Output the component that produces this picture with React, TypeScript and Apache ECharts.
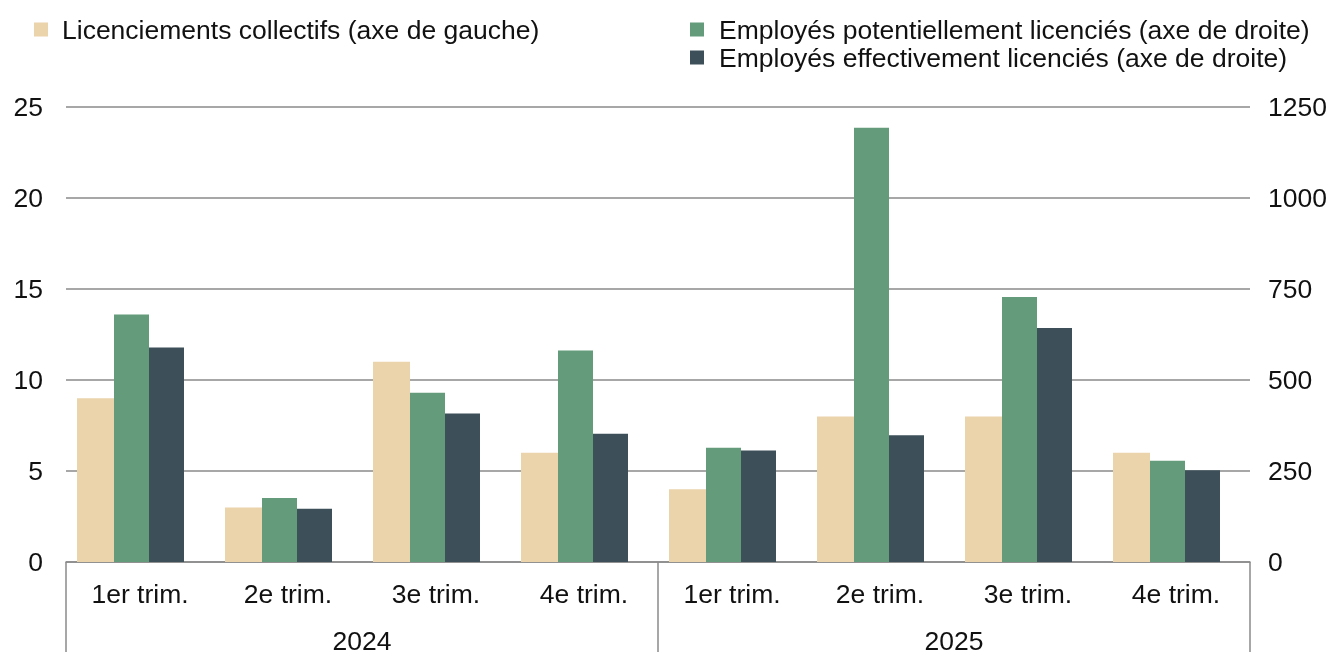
import React, { useEffect, useRef } from "react";
import * as echarts from "echarts";

const quarters = ["1er trim.", "2e trim.", "3e trim.", "4e trim.", "1er trim.", "2e trim.", "3e trim.", "4e trim."];
const years = ["2024", "2025"];
const collectiveLayoffs = [9, 3, 11, 6, 4, 8, 8, 6];
const potentialEmployees = [680, 176, 465, 581, 314, 1193, 728, 278];
const actualEmployees = [589, 146, 408, 352, 306, 348, 643, 252];
const leftTicks = { min: 0, max: 25, interval: 5 };
const rightTicks = { min: 0, max: 1250, interval: 250 };

const nameLeft = "Licenciements collectifs (axe de gauche)";
const namePot = "Employés potentiellement licenciés (axe de droite)";
const nameAct = "Employés effectivement licenciés (axe de droite)";

const FONT = "Liberation Sans, Arial, sans-serif";
const GRAY = "#8a8a8a";
const TXT = "#111";
const FS = 26.5;

export default function App() {
  const ref = useRef<HTMLDivElement>(null);
  useEffect(() => {
    if (!ref.current) return;
    const chart = echarts.init(ref.current, undefined, { renderer: "svg" });
    chart.setOption({
      animation: false,
      textStyle: { fontFamily: FONT },
      legend: [
        {
          data: [nameLeft],
          left: 34,
          top: 16,
          padding: 0,
          icon: "rect",
          itemWidth: 14,
          itemHeight: 14,
          textStyle: { fontSize: FS, color: TXT, fontFamily: FONT, padding: [0, 0, 0, 9] },
        },
        {
          data: [namePot, nameAct],
          orient: "vertical",
          left: 690,
          top: 16,
          padding: 0,
          itemGap: 1,
          icon: "rect",
          itemWidth: 14,
          itemHeight: 14,
          textStyle: { fontSize: FS, color: TXT, fontFamily: FONT, padding: [0, 0, 0, 10] },
        },
      ],
      grid: { left: 66, right: 85, top: 107, bottom: 89, containLabel: false },
      xAxis: [
        {
          type: "category",
          data: quarters,
          position: "bottom",
          axisLine: { show: true, lineStyle: { color: GRAY, width: 1.5 } },
          axisTick: { show: false },
          axisLabel: { interval: 0, fontSize: FS, color: TXT, fontFamily: FONT, margin: 18 },
        },
        {
          type: "category",
          data: years,
          position: "bottom",
          axisLine: { show: false },
          axisTick: { show: true, length: 90, lineStyle: { color: GRAY, width: 1.5 } },
          axisLabel: { interval: 0, fontSize: FS, color: TXT, fontFamily: FONT, margin: 65 },
        },
      ],
      yAxis: [
        {
          type: "value",
          ...leftTicks,
          position: "left",
          axisLine: { show: false },
          axisTick: { show: false },
          splitLine: { show: true, lineStyle: { color: GRAY, width: 1.5 } },
          axisLabel: { fontSize: FS, color: TXT, fontFamily: FONT, margin: 23 },
        },
        {
          type: "value",
          ...rightTicks,
          position: "right",
          axisLine: { show: false },
          axisTick: { show: false },
          splitLine: { show: false },
          axisLabel: { fontSize: FS, color: TXT, fontFamily: FONT, margin: 18, formatter: (v: number) => String(v) },
        },
      ],
      series: [
        {
          name: nameLeft,
          type: "bar",
          xAxisIndex: 0,
          yAxisIndex: 0,
          data: collectiveLayoffs,
          barWidth: 37,
          barGap: "0%",
          itemStyle: { color: "#EBD3AC" },
        },
        {
          name: namePot,
          type: "bar",
          xAxisIndex: 0,
          yAxisIndex: 1,
          data: potentialEmployees,
          barWidth: 35,
          barGap: "0%",
          itemStyle: { color: "#639B7B" },
        },
        {
          name: nameAct,
          type: "bar",
          xAxisIndex: 0,
          yAxisIndex: 1,
          data: actualEmployees,
          barWidth: 35,
          barGap: "0%",
          itemStyle: { color: "#3D4F59" },
        },
        {
          name: "spacer",
          type: "bar",
          xAxisIndex: 0,
          yAxisIndex: 1,
          data: [],
          barWidth: 19,
          barGap: "0%",
          itemStyle: { color: "transparent" },
        },
      ],
    });
    return () => chart.dispose();
  }, []);
  return (
    <div
      ref={ref}
      style={{ position: "fixed", left: 0, top: 0, width: 1335, height: 654, overflow: "hidden" }}
    />
  );
}
